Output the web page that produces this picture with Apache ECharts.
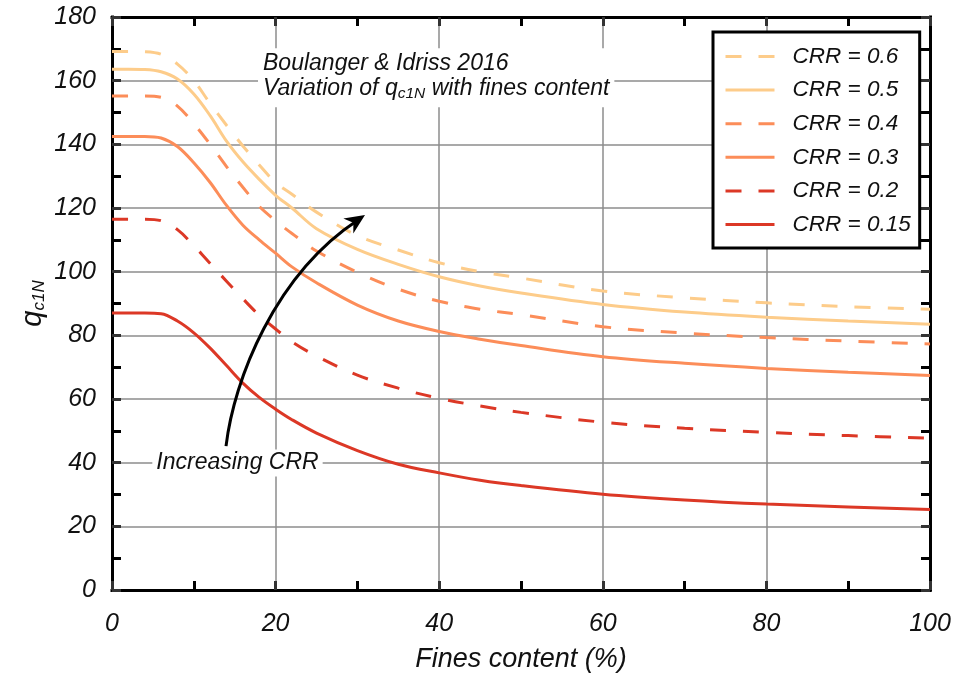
<!DOCTYPE html>
<html>
<head>
<meta charset="utf-8">
<script src="https://cdn.jsdelivr.net/npm/echarts@6/dist/echarts.min.js"></script>
<style>
html,body{margin:0;padding:0;background:#fff}
#main{width:960px;height:678px}
</style>
</head>
<body>
<div id="main"></div>
<script>
// fines content (%) where each curve was read
var fines  = [0,2,4,6,8,10,12,14,16,18,20,22,25,30,35,40,45,50,60,70,80,90,100];
// q_c1N for each CRR
var crr060 = [169.2,169.2,169.1,168.3,165.2,160,152.8,146,139.5,133.5,128,124.3,118.7,111.3,106.8,102.8,100,98,93.9,91.8,90.2,89,88.2];
var crr050 = [163.6,163.6,163.5,162.8,160.5,155.8,149,141,134.5,129,124,120,113.5,107,102.3,98.4,95.5,93.3,89.7,87.3,85.7,84.5,83.5];
var crr040 = [155.2,155.2,155.2,154.8,152,146.5,140,133,126.5,120.5,116,112,106.5,99.8,94.5,90.7,88.2,86.5,82.7,80.7,79.3,78.2,77.3];
var crr030 = [142.5,142.5,142.5,142,139.3,134.2,128,120.8,114.6,110,105.8,101.5,96.5,89.5,84.5,81.2,78.8,76.8,73.3,71.2,69.6,68.4,67.4];
var crr020 = [116.5,116.5,116.5,116,113.2,108.2,102.6,97,91.5,86.3,82,78,73.5,67.5,63.4,60.2,57.8,55.8,52.7,50.8,49.5,48.5,47.7];
var crr015 = [87,87,87,86.8,84.5,80.8,76,70.5,65,60.5,56.8,53.5,49.3,43.8,39.5,36.8,34.5,32.8,30.1,28.3,27,26.1,25.3];
var names  = ['CRR = 0.6','CRR = 0.5','CRR = 0.4','CRR = 0.3','CRR = 0.2','CRR = 0.15'];

// annotation anchors, in data units
var arrowPts = [[13.94,45.2],[14.9,66],[19.9,99],[30.07,116.2],[30.93,117.8]];
var notePos = [17.85,170.2];
var crrTextPos = [15.34,39.9];

var FONT = '"Liberation Sans", Arial, sans-serif';
var light = '#fdcc8a', mid = '#fc8d59', red = '#dc3826';

var dom = document.getElementById('main');
var chart = echarts.init(dom);

function mkSeries(name, ys, color, dashed) {
    return {
        name: name,
        type: 'line',
        data: fines.map(function (x, i) { return [x, ys[i]]; }),
        symbol: 'none',
        smooth: 0.35,
        itemStyle: {color: color},
        lineStyle: {color: color, width: 3, type: dashed ? [16, 17] : 'solid', cap: 'butt'},
        z: 3
    };
}

var tickLbl = {fontSize: 25, fontStyle: 'italic', fontFamily: FONT, color: '#111'};
var frame = {onZero: false, lineStyle: {color: '#000', width: 3, cap: 'square'}};
var tick = {inside: true, length: 9, lineStyle: {color: '#333', width: 3}};
var minor = {show: true, splitNumber: 2, length: 9, lineStyle: {color: '#000', width: 3}};
var grid = {lineStyle: {color: '#8c8c8c', width: 1.5}};

var option = {
    animation: false,
    backgroundColor: '#fff',
    grid: {left: 112, right: 30, top: 17, bottom: 88, outerBoundsMode: 'none'},
    legend: {
        data: names,
        orient: 'vertical',
        left: 713, top: 32,
        padding: [13, 9, 12, 11],
        itemGap: 10.6,
        itemWidth: 49, itemHeight: 14,
        itemStyle: {opacity: 0},
        lineStyle: {width: 3},
        backgroundColor: '#fff',
        borderColor: '#000', borderWidth: 3,
        textStyle: {fontSize: 22.5, fontStyle: 'italic', fontFamily: FONT, color: '#111',
                    lineHeight: 22, padding: [0, 0, 0, 13]},
        z: 10
    },
    xAxis: [{
        type: 'value', min: 0, max: 100, interval: 20,
        name: 'Fines content (%)', nameLocation: 'middle', nameGap: 56,
        nameMoveOverlap: false,
        nameTextStyle: {fontSize: 27, fontStyle: 'italic', fontFamily: FONT, color: '#111'},
        axisLine: frame, axisTick: tick, minorTick: minor,
        axisLabel: Object.assign({margin: 22}, tickLbl),
        splitLine: grid
    }, {
        type: 'value', min: 0, max: 100, interval: 20, position: 'top',
        axisLine: frame, axisTick: tick, minorTick: minor,
        axisLabel: {show: false}, splitLine: {show: false}
    }],
    yAxis: [{
        type: 'value', min: 0, max: 180, interval: 20,
        name: '{q|q}{s|c1N}', nameLocation: 'middle', nameGap: 64,
        nameMoveOverlap: false,
        nameTextStyle: {
            fontFamily: FONT, color: '#111',
            rich: {
                q: {fontSize: 29, fontStyle: 'italic', fontFamily: FONT, lineHeight: 30, verticalAlign: 'middle'},
                s: {fontSize: 17, fontStyle: 'italic', fontFamily: FONT, lineHeight: 8, verticalAlign: 'bottom'}
            }
        },
        axisLine: frame, axisTick: tick, minorTick: minor,
        axisLabel: Object.assign({margin: 16}, tickLbl),
        splitLine: grid
    }, {
        type: 'value', min: 0, max: 180, interval: 20, position: 'right',
        axisLine: frame, axisTick: tick, minorTick: minor,
        axisLabel: {show: false}, splitLine: {show: false}
    }],
    series: [
        mkSeries(names[0], crr060, light, true),
        mkSeries(names[1], crr050, light, false),
        mkSeries(names[2], crr040, mid, true),
        mkSeries(names[3], crr030, mid, false),
        mkSeries(names[4], crr020, red, true),
        mkSeries(names[5], crr015, red, false)
    ]
};

chart.setOption(option);

// annotations placed through the axes' scales
function px(p) { return chart.convertToPixel({xAxisIndex: 0, yAxisIndex: 0}, p); }

var a = arrowPts.map(px);
var tip = a[4], tail = a[3];
var dx = tip[0] - a[2][0], dy = tip[1] - a[2][1];
var len = Math.sqrt(dx * dx + dy * dy);
var ux = dx / len, uy = dy / len, nx = -uy, ny = ux;
var L = 20, W = 9, N = 6;
var head = [
    tip,
    [tip[0] - ux * L + nx * W, tip[1] - uy * L + ny * W],
    [tip[0] - ux * (L - N), tip[1] - uy * (L - N)],
    [tip[0] - ux * L - nx * W, tip[1] - uy * L - ny * W]
];

var np = px(notePos), cp = px(crrTextPos);
var noteRich = {
    t: {fontSize: 23, fontStyle: 'italic', fontFamily: FONT, lineHeight: 25, verticalAlign: 'middle'},
    s: {fontSize: 15.5, fontStyle: 'italic', fontFamily: FONT, lineHeight: 6, verticalAlign: 'bottom'}
};

chart.setOption({
    graphic: [{
        type: 'bezierCurve', z: 20,
        shape: {x1: a[0][0], y1: a[0][1], cpx1: a[1][0], cpy1: a[1][1],
                cpx2: a[2][0], cpy2: a[2][1], x2: tail[0], y2: tail[1]},
        style: {stroke: '#000', lineWidth: 3, fill: null}
    }, {
        type: 'polygon', z: 20,
        shape: {points: head},
        style: {fill: '#000'}
    }, {
        type: 'text', z: 20,
        x: np[0], y: np[1],
        style: {
            text: '{t|Boulanger & Idriss 2016}\n{t|Variation of q}{s|c1N}{t| with fines content}',
            rich: noteRich, fill: '#111',
            align: 'left', verticalAlign: 'top',
            backgroundColor: '#fff', padding: [3, 5, 6, 5]
        }
    }, {
        type: 'text', z: 20,
        x: cp[0], y: cp[1],
        style: {
            text: 'Increasing CRR',
            fontSize: 23, fontStyle: 'italic', fontFamily: FONT, fill: '#111',
            align: 'center', verticalAlign: 'middle',
            backgroundColor: '#fff', padding: [2, 4]
        }
    }]
});
</script>
</body>
</html>
